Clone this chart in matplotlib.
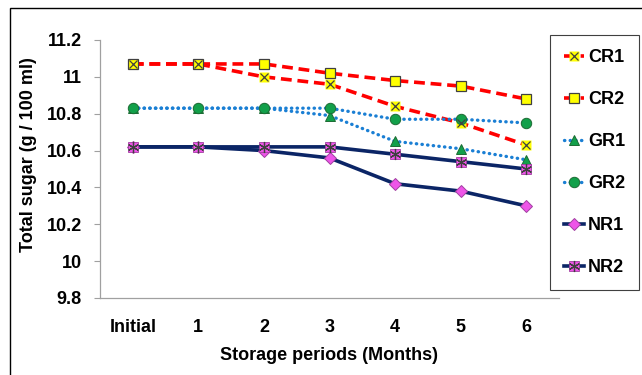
import matplotlib.pyplot as plt
from matplotlib.patches import Rectangle
from matplotlib.legend_handler import HandlerTuple

plt.rcParams['font.family'] = ['Liberation Sans', 'DejaVu Sans']
plt.rcParams['font.weight'] = 'bold'

periods = ["Initial", "1", "2", "3", "4", "5", "6"]
cr1 = [11.07, 11.07, 11.00, 10.96, 10.84, 10.75, 10.63]
cr2 = [11.07, 11.07, 11.07, 11.02, 10.98, 10.95, 10.88]
gr1 = [10.83, 10.83, 10.83, 10.79, 10.65, 10.61, 10.55]
gr2 = [10.83, 10.83, 10.83, 10.83, 10.77, 10.77, 10.75]
nr1 = [10.62, 10.62, 10.60, 10.56, 10.42, 10.38, 10.30]
nr2 = [10.62, 10.62, 10.62, 10.62, 10.58, 10.54, 10.50]
y_ticks = [9.8, 10, 10.2, 10.4, 10.6, 10.8, 11, 11.2]
y_tick_labels = ["9.8", "10", "10.2", "10.4", "10.6", "10.8", "11", "11.2"]

red = '#ff0000'
blue = '#1a7fd4'
navy = '#0b2566'
yellow = '#ffff00'
green = '#12a04a'
pink = '#ee55e8'
edge = '#404040'
fs = 13

fig = plt.figure(figsize=(6.42, 3.75), dpi=100)
ax = fig.add_axes([100 / 642, 1 - 298 / 375, 459 / 642, 258 / 375])
x = range(len(periods))

dash = dict(lw=2.6, dashes=(3, 1.6))
dots = dict(lw=2.4, linestyle=(0, (0.1, 1.6)), dash_capstyle='round')

# red dashed series
l_cr1, = ax.plot(x, cr1, color=red, **dash, zorder=2)
m_cr1a, = ax.plot(x, cr1, ls='none', marker='s', ms=7, mfc=yellow, mec='none', zorder=3)
m_cr1b, = ax.plot(x, cr1, ls='none', marker='x', ms=6, mec=edge, mew=0.9, zorder=4)
l_cr2, = ax.plot(x, cr2, color=red, **dash, marker='s', ms=7, mfc=yellow, mec=edge, mew=0.9, zorder=3)

# blue dotted series
l_gr1, = ax.plot(x, gr1, color=blue, **dots, marker='^', ms=7, mfc=green, mec='#1c6b33', mew=0.7, zorder=3)
l_gr2, = ax.plot(x, gr2, color=blue, **dots, marker='o', ms=7.5, mfc=green, mec='#1c6b33', mew=0.7, zorder=3)

# navy solid series
l_nr1, = ax.plot(x, nr1, color=navy, lw=2.6, marker='D', ms=6.5, mfc=pink, mec='#a040a0', mew=0.7, zorder=3)
l_nr2, = ax.plot(x, nr2, color=navy, lw=2.6, zorder=2)
m_nr2a, = ax.plot(x, nr2, ls='none', marker='s', ms=7.5, mfc=pink, mec='#a040a0', mew=0.6, zorder=3)
m_nr2b, = ax.plot(x, nr2, ls='none', marker=(6, 2, 0), ms=8, mec=edge, mew=0.9, zorder=4)

ax.set_xlim(-0.5, 6.5)
ax.set_ylim(9.8, 11.2)
ax.set_xticks(list(x))
ax.set_xticklabels(periods, fontsize=fs, fontweight='bold')
ax.set_yticks(y_ticks)
ax.set_yticklabels(y_tick_labels, fontsize=fs, fontweight='bold')
ax.tick_params(axis='x', length=0, pad=15)
ax.tick_params(axis='y', length=4, color='#a0a0a0', pad=9)
for s in ['top', 'right']:
    ax.spines[s].set_visible(False)
for s in ['left', 'bottom']:
    ax.spines[s].set_color('#a0a0a0')
    ax.spines[s].set_linewidth(0.9)

ax.set_xlabel("Storage periods (Months)", fontsize=fs, fontweight='bold', labelpad=8)
fig.text(29 / 642, 1 - 155 / 375, "Total sugar (g / 100 ml)", rotation=90,
         ha='center', va='center', fontsize=fs, fontweight='bold')

handles = [(l_cr1, m_cr1a, m_cr1b), l_cr2, l_gr1, l_gr2, l_nr1, (l_nr2, m_nr2a, m_nr2b)]
labels = ["CR1", "CR2", "GR1", "GR2", "NR1", "NR2"]
leg = fig.legend(handles, labels, loc='upper left', bbox_to_anchor=(550 / 642, 1 - 35 / 375),
                 handler_map={tuple: HandlerTuple(ndivide=1, pad=0)},
                 prop={'size': fs, 'weight': 'bold'}, handlelength=1.1, handletextpad=0.2,
                 labelspacing=1.38, borderpad=0.8, borderaxespad=0, fancybox=False,
                 framealpha=1, edgecolor='#404040')
leg.get_frame().set_linewidth(0.8)

# outer frame around the chart
fig.patches.append(Rectangle((10 / 642, -0.1), 1.0, 1 - 8 / 375 + 0.1, transform=fig.transFigure,
                             fill=False, edgecolor='black', lw=1.0))

fig.savefig('out.png', dpi=100)
